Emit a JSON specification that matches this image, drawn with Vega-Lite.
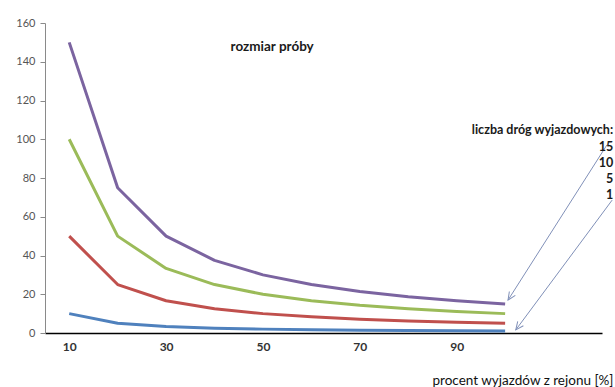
{
  "$schema": "https://vega.github.io/schema/vega-lite/v6.json",
  "autosize": "none",
  "width": 557,
  "height": 310,
  "padding": {"left": 45, "top": 23, "right": 13, "bottom": 54},
  "background": "white",
  "config": {"view": {"stroke": null}, "font": "Lato"},
  "encoding": {
    "x": {"field": "x", "type": "quantitative", "scale": {"domain": [5, 120], "nice": false, "zero": false},
      "axis": {"values": [10, 30, 50, 70, 90], "ticks": false, "grid": false, "domainColor": "#000000", "domainWidth": 1.5,
        "labelColor": "#333333", "labelFontSize": 12, "labelFontWeight": "bold", "labelPadding": 8,
        "title": "procent wyjazdów z rejonu [%]", "titleFontSize": 13.5, "titleFontWeight": "normal", "titleColor": "#111111",
        "titleAnchor": "end", "titleAlign": "right", "titleX": 568, "titleY": 47, "titleBaseline": "middle"}},
    "y": {"field": "y", "type": "quantitative", "scale": {"domain": [0, 160], "nice": false},
      "axis": {"values": [0, 20, 40, 60, 80, 100, 120, 140, 160], "grid": false, "domainColor": "#8a8a8a", "tickColor": "#8a8a8a",
        "tickSize": 5, "labelPadding": 5, "labelColor": "#555555", "labelFontSize": 11, "title": null}}
  },
  "layer": [
    {
      "data": {"values": [
        {"x": 10, "y": 150, "k": "15"}, {"x": 20, "y": 75, "k": "15"}, {"x": 30, "y": 50, "k": "15"}, {"x": 40, "y": 37.5, "k": "15"}, {"x": 50, "y": 30, "k": "15"},
        {"x": 60, "y": 25, "k": "15"}, {"x": 70, "y": 21.43, "k": "15"}, {"x": 80, "y": 18.75, "k": "15"}, {"x": 90, "y": 16.67, "k": "15"}, {"x": 100, "y": 15, "k": "15"},
        {"x": 10, "y": 100, "k": "10"}, {"x": 20, "y": 50, "k": "10"}, {"x": 30, "y": 33.33, "k": "10"}, {"x": 40, "y": 25, "k": "10"}, {"x": 50, "y": 20, "k": "10"},
        {"x": 60, "y": 16.67, "k": "10"}, {"x": 70, "y": 14.29, "k": "10"}, {"x": 80, "y": 12.5, "k": "10"}, {"x": 90, "y": 11.11, "k": "10"}, {"x": 100, "y": 10, "k": "10"},
        {"x": 10, "y": 50, "k": "5"}, {"x": 20, "y": 25, "k": "5"}, {"x": 30, "y": 16.67, "k": "5"}, {"x": 40, "y": 12.5, "k": "5"}, {"x": 50, "y": 10, "k": "5"},
        {"x": 60, "y": 8.33, "k": "5"}, {"x": 70, "y": 7.14, "k": "5"}, {"x": 80, "y": 6.25, "k": "5"}, {"x": 90, "y": 5.56, "k": "5"}, {"x": 100, "y": 5, "k": "5"},
        {"x": 10, "y": 10, "k": "1"}, {"x": 20, "y": 5, "k": "1"}, {"x": 30, "y": 3.33, "k": "1"}, {"x": 40, "y": 2.5, "k": "1"}, {"x": 50, "y": 2, "k": "1"},
        {"x": 60, "y": 1.67, "k": "1"}, {"x": 70, "y": 1.43, "k": "1"}, {"x": 80, "y": 1.25, "k": "1"}, {"x": 90, "y": 1.11, "k": "1"}, {"x": 100, "y": 1, "k": "1"}
      ]},
      "mark": {"type": "line", "strokeWidth": 3, "strokeJoin": "round"},
      "encoding": {
        "color": {"field": "k", "type": "nominal", "legend": null,
          "scale": {"domain": ["15", "10", "5", "1"], "range": ["#7b64a0", "#9bbb59", "#c0504d", "#4f81bd"]}},
        "order": {"field": "x"}
      }
    },
    {
      "data": {"values": [
        {"x": 121.0, "y": 97, "x2": 100.6, "y2": 17},
        {"x": 122.1, "y": 68.6, "x2": 102.2, "y2": 1.6}
      ]},
      "mark": {"type": "rule", "color": "#8090b8", "strokeWidth": 1},
      "encoding": {
        "x2": {"field": "x2"},
        "y2": {"field": "y2"}
      }
    },
    {
      "data": {"values": [
        {"x": 100.6, "y": 17, "a": 213},
        {"x": 102.2, "y": 1.6, "a": 217}
      ]},
      "mark": {"type": "point", "shape": "M-0.45,1L0,0L0.45,1", "filled": false, "color": "#8090b8", "strokeWidth": 1, "size": 250, "opacity": 1},
      "encoding": {
        "angle": {"field": "a", "type": "quantitative", "scale": null}
      }
    },
    {
      "data": {"values": [
        {"x": 122.3, "y": 104.8, "t": "liczba dróg wyjazdowych:"},
        {"x": 122.3, "y": 96.2, "t": "15"},
        {"x": 122.3, "y": 87.9, "t": "10"},
        {"x": 122.3, "y": 79.6, "t": "5"},
        {"x": 122.3, "y": 71.4, "t": "1"}
      ]},
      "mark": {"type": "text", "align": "right", "baseline": "middle", "fontSize": 12.5, "fontWeight": "bold", "color": "#1a1a1a"},
      "encoding": {
        "text": {"field": "t"}
      }
    },
    {
      "data": {"values": [{"x": 51.9, "y": 147.6, "t": "rozmiar próby"}]},
      "mark": {"type": "text", "align": "center", "baseline": "middle", "fontSize": 13.5, "fontWeight": "bold", "color": "#1a1a1a"},
      "encoding": {
        "text": {"field": "t"}
      }
    }
  ]
}
